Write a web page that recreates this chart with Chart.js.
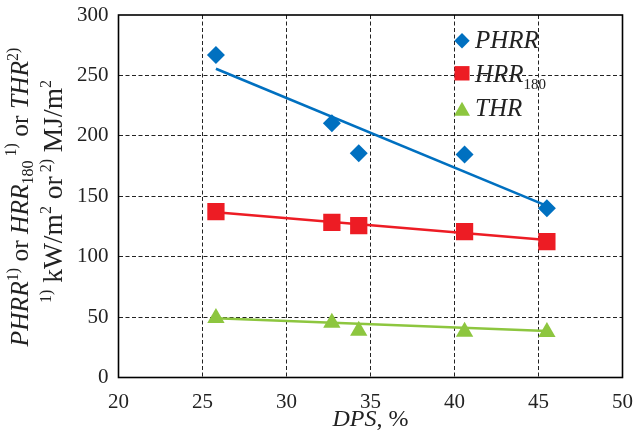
<!DOCTYPE html>
<html>
<head>
<meta charset="utf-8">
<script src="https://cdn.jsdelivr.net/npm/chart.js@4"></script>
<style>
html,body{margin:0;padding:0;background:#fff;}
#wrap{width:638px;height:441px;position:relative;}
</style>
</head>
<body>
<div id="wrap"><canvas id="c"></canvas></div>
<script>
// ---- data ----
const dps = [25.8, 32.7, 34.3, 40.6, 45.5];
const phrr = [267, 210.5, 185.5, 184.5, 140];
const hrr180 = [137.2, 128.4, 125.6, 120.7, 112.4];
const thr = [49.2, 45.3, 38.7, 37.9, 37.6];
const trendX = [25.8, 45.5];
const phrrTrend = [255.5, 142];
const hrrTrend = [136.7, 113.8];
const thrTrend = [49, 38.5];
const xTicks = [20, 25, 30, 35, 40, 45, 50];
const yTicks = [0, 50, 100, 150, 200, 250, 300];
const seriesNames = ['PHRR', 'HRR', 'THR'];

const BLUE = '#0070C0', RED = '#ED1C24', GREEN = '#8DC63F';
const SERIF = '"Liberation Serif"';

const pts = (xs, ys) => xs.map((x, i) => ({x: x, y: ys[i]}));

function drawRich(ctx, segs, x, y) {
  let cx = x;
  for (const s of segs) {
    ctx.font = (s.i ? 'italic ' : '') + s.size + 'px ' + SERIF;
    ctx.fillText(s.t, cx, y + (s.dy || 0));
    cx += ctx.measureText(s.t).width;
  }
  return cx - x;
}
function measureRich(ctx, segs) {
  let w = 0;
  for (const s of segs) {
    ctx.font = (s.i ? 'italic ' : '') + s.size + 'px ' + SERIF;
    w += ctx.measureText(s.t).width;
  }
  return w;
}

const annotPlugin = {
  id: 'annot',
  beforeDatasetsDraw(chart) {
    const ctx = chart.ctx, a = chart.chartArea;
    ctx.save();
    ctx.strokeStyle = '#000';
    ctx.lineWidth = 1.6;
    ctx.strokeRect(a.left, a.top, a.right - a.left, a.bottom - a.top);
    ctx.restore();
  },
  afterDraw(chart) {
    const ctx = chart.ctx, a = chart.chartArea;
    ctx.save();
    ctx.fillStyle = '#222';
    ctx.textBaseline = 'alphabetic';
    ctx.textAlign = 'left';
    // x title
    const xt = [{t:'DPS', i:true, size:24}, {t:', %', size:24}];
    const xw = measureRich(ctx, xt);
    drawRich(ctx, xt, (a.left + a.right) / 2 - xw / 2, 426);

    // y title line 1
    const F1 = 25.5, F2 = 27.5, S = 16;
    const l1 = [
      {t:'PHRR', i:true, size:F1}, {t:'1)', size:S, dy:-10},
      {t:' or ', size:F1}, {t:'HRR', i:true, size:F1},
      {t:'180', size:S, dy:5}, {t:' 1)', size:S, dy:-12},
      {t:' or ', size:F1}, {t:'THR', i:true, size:F1}, {t:'2)', size:S, dy:-10}
    ];
    const w1 = measureRich(ctx, l1);
    ctx.save();
    ctx.translate(28, 197);
    ctx.rotate(-Math.PI / 2);
    drawRich(ctx, l1, -w1 / 2, 0);
    ctx.restore();
    // y title line 2
    const l2 = [
      {t:'1)', size:S, dy:-11}, {t:' kW/m', size:F2}, {t:'2', size:S, dy:-11},
      {t:' or', size:F2}, {t:' 2)', size:S, dy:-11}, {t:' MJ/m', size:F2}, {t:'2', size:S, dy:-11}
    ];
    const w2 = measureRich(ctx, l2);
    ctx.save();
    ctx.translate(61.5, 191.5);
    ctx.rotate(-Math.PI / 2);
    drawRich(ctx, l2, -w2 / 2, 0);
    ctx.restore();

    // legend
    const lx = 462, tx = 475;
    ctx.fillStyle = BLUE;
    ctx.beginPath();
    ctx.moveTo(lx, 40.7 - 7.7); ctx.lineTo(lx + 7.7, 40.7); ctx.lineTo(lx, 40.7 + 7.7); ctx.lineTo(lx - 7.7, 40.7);
    ctx.closePath(); ctx.fill();
    ctx.fillStyle = RED;
    ctx.fillRect(lx - 7.5, 73.3 - 7.2, 15, 14.4);
    ctx.fillStyle = GREEN;
    ctx.beginPath();
    ctx.moveTo(lx, 101.7); ctx.lineTo(lx + 8, 115.7); ctx.lineTo(lx - 8, 115.7);
    ctx.closePath(); ctx.fill();
    ctx.fillStyle = '#222';
    drawRich(ctx, [{t:seriesNames[0], i:true, size:25}], tx, 47.7);
    drawRich(ctx, [{t:seriesNames[1], i:true, size:25}, {t:'180', size:15, dy:7}], tx, 81.7);
    drawRich(ctx, [{t:seriesNames[2], i:true, size:25}], tx, 115.7);
    ctx.restore();
  }
};

const gridColor = (c) => (c.index === 0 || c.index === 6) ? 'rgba(0,0,0,0)' : '#222';

new Chart(document.getElementById('c'), {
  type: 'scatter',
  data: {
    datasets: [
      {label:'PHRR trend', data: pts(trendX, phrrTrend), showLine:true, borderColor: BLUE, borderWidth:2.6, pointRadius:0, order:2},
      {label:'HRR180 trend', data: pts(trendX, hrrTrend), showLine:true, borderColor: RED, borderWidth:2.6, pointRadius:0, order:2},
      {label:'THR trend', data: pts(trendX, thrTrend), showLine:true, borderColor: GREEN, borderWidth:2.6, pointRadius:0, order:2},
      {label:'PHRR', data: pts(dps, phrr), pointStyle:'rectRot', pointRadius:9, backgroundColor: BLUE, borderColor: BLUE, borderWidth:0, order:1},
      {label:'HRR180', data: pts(dps, hrr180), pointStyle:'rect', pointRadius:12.2, backgroundColor: RED, borderColor: RED, borderWidth:0, order:1},
      {label:'THR', data: pts(dps, thr), pointStyle:'triangle', pointRadius:10, backgroundColor: GREEN, borderColor: GREEN, borderWidth:0, order:1}
    ]
  },
  options: {
    responsive: true,
    maintainAspectRatio: false,
    animation: false,
    events: [],
    layout: {padding: {left: 0, right: 15.5, top: 15, bottom: 0}},
    plugins: {legend: {display:false}, tooltip: {enabled:false}, title: {display:false}},
    scales: {
      x: {
        type: 'linear', min: 20, max: 50,
        afterBuildTicks: (s) => { s.ticks = xTicks.map(v => ({value: v})); },
        afterFit: (s) => { s.height = 63.5; s.paddingLeft = 0; s.paddingRight = 0; },
        grid: {color: gridColor, lineWidth: 1, drawTicks: false},
        border: {display: false, dash: [4, 2.5]},
        ticks: {color: '#222', padding: 12, font: {family: SERIF, size: 21}, maxRotation: 0}
      },
      y: {
        type: 'linear', min: 0, max: 300,
        afterBuildTicks: (s) => { s.ticks = yTicks.map(v => ({value: v})); },
        afterFit: (s) => { s.width = 118.5; s.paddingTop = 0; s.paddingBottom = 0; },
        grid: {color: gridColor, lineWidth: 1, drawTicks: false},
        border: {display: false, dash: [4, 2.5]},
        ticks: {color: '#222', padding: 10, font: {family: SERIF, size: 21}}
      }
    }
  },
  plugins: [annotPlugin]
});
</script>
</body>
</html>
